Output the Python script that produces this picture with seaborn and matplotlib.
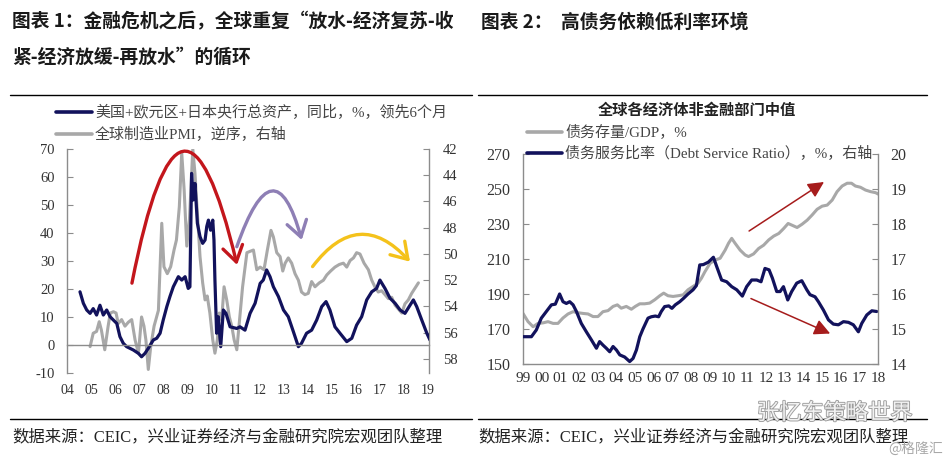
import matplotlib
matplotlib.use("Agg")
import matplotlib.pyplot as plt
import seaborn as sns
from matplotlib.lines import Line2D
from matplotlib.path import Path
from matplotlib.patches import FancyArrowPatch
import matplotlib.patheffects as pe

sns.set_style("white")
plt.rcParams["font.family"] = ["Liberation Serif", "Noto Sans CJK SC"]
plt.rcParams["axes.unicode_minus"] = False

# ---- chart 1: central bank assets yoy vs global PMI (inverted) ----
assets_year = [2004.54, 2004.68, 2004.82, 2004.96, 2005.09, 2005.23, 2005.37, 2005.51, 2005.65,
               2005.79, 2005.93, 2006.07, 2006.20, 2006.34, 2006.48, 2006.62, 2006.76, 2006.97,
               2007.10, 2007.24, 2007.38, 2007.59, 2007.73, 2007.87, 2008.00, 2008.15, 2008.28,
               2008.42, 2008.63, 2008.77, 2008.91, 2009.04, 2009.11, 2009.18, 2009.25, 2009.32,
               2009.42, 2009.53, 2009.64, 2009.74, 2009.81, 2009.88, 2009.97, 2010.06, 2010.11,
               2010.15, 2010.22, 2010.29, 2010.39, 2010.50, 2010.61, 2010.78, 2011.06, 2011.19,
               2011.40, 2011.61, 2011.82, 2012.03, 2012.16, 2012.30, 2012.44, 2012.58, 2012.79,
               2013.00, 2013.20, 2013.41, 2013.62, 2013.75, 2013.96, 2014.17, 2014.38, 2014.59,
               2014.77, 2014.93, 2015.14, 2015.35, 2015.63, 2015.84, 2016.04, 2016.25, 2016.46,
               2016.67, 2016.87, 2017.01, 2017.22, 2017.43, 2017.64, 2017.85, 2018.05, 2018.26,
               2018.40, 2018.54, 2018.75, 2018.96, 2019.09]
assets_yoy = [19.0, 14.9, 12.5, 11.3, 13.0, 10.7, 14.2, 10.7, 12.5,
              10.1, 8.9, 7.7, 3.0, 0.6, -0.6, -1.2, -1.8, -3.0,
              -4.2, -3.0, -1.2, 1.8, 2.4, 4.2, 8.9, 13.7, 17.3,
              20.8, 24.4, 23.2, 24.4, 20.2, 20.8, 61.3, 51.8, 57.7,
              43.5, 38.7, 36.3, 37.5, 42.3, 44.6, 41.0, 44.6, 37.5,
              23.2, 4.2, 10.1, -0.6, 12.5, 11.3, 6.5, 5.9, 6.5,
              5.3, 11.3, 14.9, 22.0, 23.2, 26.8, 24.4, 20.8, 17.3,
              12.5, 10.1, 4.8, -0.6, 0.6, 4.2, 5.3, 8.9, 13.7,
              15.5, 12.5, 6.5, 4.2, 1.2, 2.4, 7.1, 10.1, 16.1,
              19.0, 20.2, 23.2, 20.2, 16.7, 14.9, 12.5, 11.3, 14.2,
              16.1, 13.7, 8.9, 4.2, 1.8]

pmi_year = [2004.96, 2005.09, 2005.23, 2005.34, 2005.43, 2005.57, 2005.71, 2005.80, 2005.93,
            2006.04, 2006.13, 2006.27, 2006.41, 2006.55, 2006.69, 2006.83, 2006.97, 2007.10,
            2007.20, 2007.28, 2007.38, 2007.48, 2007.62, 2007.80, 2007.94, 2008.03, 2008.17,
            2008.31, 2008.45, 2008.55, 2008.67, 2008.77, 2008.87, 2008.98, 2009.09, 2009.23,
            2009.32, 2009.42, 2009.53, 2009.64, 2009.74, 2009.83, 2009.94, 2010.06, 2010.15,
            2010.25, 2010.33, 2010.43, 2010.53, 2010.64, 2010.75, 2010.85, 2010.95, 2011.06,
            2011.20, 2011.30, 2011.48, 2011.61, 2011.75, 2011.89, 2012.03, 2012.19, 2012.33,
            2012.48, 2012.58, 2012.72, 2012.86, 2012.97, 2013.07, 2013.20, 2013.34, 2013.48,
            2013.62, 2013.75, 2013.89, 2014.03, 2014.17, 2014.31, 2014.49, 2014.66, 2014.80,
            2014.96, 2015.14, 2015.32, 2015.49, 2015.63, 2015.77, 2015.91, 2016.04, 2016.18,
            2016.35, 2016.53, 2016.67, 2016.80, 2016.94, 2017.08, 2017.22, 2017.36, 2017.50,
            2017.64, 2017.78, 2017.92, 2018.05, 2018.19, 2018.33, 2018.47, 2018.61]
pmi = [57.06, 56.04, 55.9, 55.16, 55.8, 57.3, 55.5, 54.5, 54.4,
       54.5, 55.3, 55.0, 55.5, 55.2, 55.0, 56.55, 57.56, 54.8,
       55.5, 56.55, 58.8, 57.06, 55.5, 54.3, 47.66, 50.97, 51.5,
       50.97, 49.7, 48.93, 46.4, 42.3, 45.1, 49.4, 47.4, 42.0,
       43.85, 46.9, 50.2, 52.2, 53.5, 53.2, 54.5, 56.55, 57.56,
       56.55, 54.5, 55.0, 52.5, 53.5, 54.8, 55.5, 56.55, 57.3,
       54.5, 52.5, 49.9, 49.8, 49.7, 51.2, 51.0, 51.2, 49.7,
       48.2, 48.7, 49.9, 50.2, 51.3, 50.7, 50.3, 50.7, 51.5,
       52.0, 52.9, 53.1, 53.0, 52.1, 52.5, 52.2, 52.0, 51.6,
       51.3, 51.0, 50.8, 50.7, 51.0, 50.5, 50.3, 49.9, 50.0,
       50.7, 51.2, 52.0, 52.5, 52.9, 52.8, 53.1, 53.4, 53.3,
       53.9, 54.2, 54.5, 53.8, 53.5, 53.0, 52.6, 52.2]

years1 = list(range(2004, 2020))
labels1 = ["04", "05", "06", "07", "08", "09", "10", "11", "12", "13", "14", "15", "16", "17", "18", "19"]

# ---- chart 2: debt / GDP vs debt service ratio ----
debt_year = [1999.00, 1999.27, 1999.54, 1999.80, 2000.07, 2000.34, 2000.61, 2000.87, 2001.14,
             2001.41, 2001.68, 2001.95, 2002.21, 2002.48, 2002.75, 2003.01, 2003.28, 2003.55,
             2003.82, 2004.05, 2004.26, 2004.53, 2004.80, 2005.01, 2005.25, 2005.51, 2005.78,
             2006.05, 2006.32, 2006.53, 2006.76, 2007.03, 2007.30, 2007.57, 2007.83, 2008.10,
             2008.37, 2008.55, 2008.74, 2009.01, 2009.28, 2009.55, 2009.82, 2010.00, 2010.17,
             2010.35, 2010.62, 2010.89, 2011.07, 2011.34, 2011.61, 2011.88, 2012.15, 2012.42,
             2012.69, 2012.95, 2013.19, 2013.40, 2013.67, 2013.94, 2014.21, 2014.47, 2014.74,
             2015.01, 2015.28, 2015.55, 2015.81, 2016.08, 2016.35, 2016.58, 2016.79, 2017.06,
             2017.33, 2017.60, 2017.87, 2018.01]
debt_gdp = [178.9, 174.2, 171.3, 173.2, 173.5, 174.2, 173.2, 173.2, 176.3,
            178.6, 179.9, 179.3, 178.9, 178.6, 177.1, 177.1, 179.9, 180.5,
            182.9, 183.8, 181.9, 182.9, 181.3, 182.9, 184.4, 184.4, 184.8,
            186.7, 189.0, 190.5, 189.0, 188.6, 189.0, 189.5, 192.4, 194.3,
            196.2, 199.0, 202.8, 207.5, 209.4, 210.4, 215.1, 219.0, 221.8,
            219.0, 215.1, 212.3, 211.4, 212.9, 216.0, 217.9, 220.9, 223.1,
            224.6, 227.4, 230.3, 229.3, 228.0, 229.9, 232.2, 235.1, 238.4,
            240.2, 240.8, 243.7, 248.5, 251.7, 253.3, 253.3, 251.7, 251.0,
            249.4, 248.5, 247.9, 247.1]

dsr_year = [1999.00, 1999.45, 1999.71, 1999.98, 2000.25, 2000.52, 2000.73, 2000.96, 2001.14,
            2001.32, 2001.50, 2001.68, 2001.86, 2002.12, 2002.39, 2002.66, 2002.93, 2003.10,
            2003.28, 2003.46, 2003.64, 2003.82, 2004.00, 2004.18, 2004.44, 2004.71, 2004.89,
            2005.07, 2005.25, 2005.42, 2005.69, 2005.87, 2006.08, 2006.26, 2006.40, 2006.58,
            2006.80, 2006.97, 2007.15, 2007.39, 2007.60, 2007.83, 2008.10, 2008.28, 2008.46,
            2008.65, 2008.92, 2009.19, 2009.37, 2009.63, 2009.90, 2010.17, 2010.44, 2010.74,
            2010.97, 2011.24, 2011.51, 2011.74, 2011.95, 2012.17, 2012.35, 2012.58, 2012.76,
            2012.94, 2013.17, 2013.38, 2013.65, 2013.92, 2014.19, 2014.36, 2014.63, 2014.81,
            2015.08, 2015.35, 2015.61, 2015.88, 2016.15, 2016.42, 2016.68, 2016.95, 2017.13,
            2017.40, 2017.67, 2017.93]
dsr = [14.78, 14.78, 14.97, 15.31, 15.5, 15.69, 15.71, 16.0, 15.78,
       15.73, 15.78, 15.69, 15.5, 15.16, 14.92, 14.69, 14.45, 14.64,
       14.54, 14.45, 14.35, 14.5, 14.4, 14.26, 14.2, 14.07, 14.16,
       14.4, 14.78, 15.0, 15.31, 15.35, 15.37, 15.35, 15.5, 15.64,
       15.66, 15.59, 15.69, 15.78, 15.88, 16.0, 16.12, 16.24, 16.83,
       16.84, 16.91, 17.05, 16.78, 16.4, 16.35, 16.21, 16.12, 15.94,
       16.21, 16.4, 16.4, 16.35, 16.73, 16.69, 16.45, 16.07, 16.07,
       16.21, 15.83, 16.07, 16.31, 16.38, 16.12, 15.98, 15.92, 15.78,
       15.54, 15.26, 15.14, 15.12, 15.21, 15.19, 15.12, 14.92, 15.16,
       15.4, 15.52, 15.5]

years2 = list(range(1999, 2019))
labels2 = ["99"] + [f"{y % 100:02d}" for y in years2[1:]]

NAVY = "#12125C"
GRAY = "#A8A8A8"
AXIS = "#8C8C8C"
TXT = "#333333"
CJK = ["Noto Sans CJK SC", "DejaVu Sans"]

W, H = 948, 461


def fx(x):
    return x / W


def fy(y):
    return 1 - y / H


fig = plt.figure(figsize=(W / 100, H / 100), dpi=100)

# ---------------- chart 1 ----------------
ax1 = fig.add_axes([fx(67), fy(373), 362 / W, 224 / H])
ax2 = ax1.twinx()
ax1.set_zorder(ax2.get_zorder() + 1)
ax1.patch.set_visible(False)

sns.lineplot(x=pmi_year, y=pmi, ax=ax2, color=GRAY, linewidth=2.2)
sns.lineplot(x=assets_year, y=assets_yoy, ax=ax1, color=NAVY, linewidth=2.3)


def arc_arrow(ax, p0, peak, p2, color):
    c = (2 * peak[0] - (p0[0] + p2[0]) / 2, 2 * peak[1] - (p0[1] + p2[1]) / 2)
    path = Path([p0, c, p2], [Path.MOVETO, Path.CURVE3, Path.CURVE3])
    arr = FancyArrowPatch(path=path, arrowstyle="->,head_length=0.7,head_width=0.45",
                          mutation_scale=16, color=color, lw=2.4, clip_on=False)
    ax.add_patch(arr)


arc_arrow(ax1, (2006.70, 22.1), (2008.82, 68.9), (2011.07, 28.6), "#C3161C")
arc_arrow(ax1, (2011.06, 35.1), (2012.51, 54.75), (2013.76, 37.5), "#8E7FB5")
arc_arrow(ax1, (2014.21, 28.0), (2016.18, 39.3), (2018.26, 29.75), "#F4C21B")

ax1.set_xlim(2004, 2019.05)
ax1.set_ylim(-10, 70)
ax1.set_yticks(range(-10, 71, 10))
ax1.set_xticks(years1)
ax1.set_xticklabels(labels1)
ax2.set_ylim(59.07, 42)
ax2.set_yticks(range(42, 59, 2))

ax1.spines["bottom"].set_position(("data", 0))
for s in ["top", "right"]:
    ax1.spines[s].set_visible(False)
for s in ["top", "left", "bottom"]:
    ax2.spines[s].set_visible(False)
for sp in [ax1.spines["left"], ax1.spines["bottom"], ax2.spines["right"]]:
    sp.set_color(AXIS)
    sp.set_linewidth(1.0)

ax1.tick_params(axis="y", direction="in", length=4, pad=9, labelsize=10.5,
                color=AXIS, labelcolor=TXT)
ax1.tick_params(axis="x", direction="in", length=4, pad=28, labelsize=10,
                color=AXIS, labelcolor=TXT)
ax2.tick_params(axis="y", direction="in", length=4, pad=10, labelsize=10.5,
                color=AXIS, labelcolor=TXT)
ax1.set_xlabel("")
ax1.set_ylabel("")
ax2.set_ylabel("")

# ---------------- chart 2 ----------------
ax3 = fig.add_axes([fx(523), fy(364), 355 / W, 210 / H])
ax4 = ax3.twinx()

sns.lineplot(x=debt_year, y=debt_gdp, ax=ax3, color=GRAY, linewidth=2.2)
sns.lineplot(x=dsr_year, y=dsr, ax=ax4, color=NAVY, linewidth=2.3)

arrow_kw = dict(arrowstyle="-|>,head_length=0.8,head_width=0.4", color="#A61C1C",
                lw=1.1, mutation_scale=12, shrinkA=0, shrinkB=0)
ax3.annotate("", xy=(2015.11, 254.0), xytext=(2011.10, 226.0), arrowprops=arrow_kw)
ax3.annotate("", xy=(2015.44, 167.4), xytext=(2011.20, 187.4), arrowprops=arrow_kw)

ax3.set_xlim(1999, 2018)
ax3.set_ylim(150, 270)
ax3.set_yticks(range(150, 271, 20))
ax3.set_xticks(years2)
ax3.set_xticklabels(labels2)
ax4.set_ylim(14, 20)
ax4.set_yticks(range(14, 21))

ax3.spines["top"].set_visible(False)
ax3.spines["right"].set_visible(False)
for s in ["top", "left", "bottom"]:
    ax4.spines[s].set_visible(False)
for sp in [ax3.spines["left"], ax3.spines["bottom"], ax4.spines["right"]]:
    sp.set_color(AXIS)
    sp.set_linewidth(1.0)

ax3.tick_params(axis="y", direction="in", length=4, pad=9, labelsize=11.5,
                color=AXIS, labelcolor=TXT)
ax3.tick_params(axis="x", direction="in", length=4, pad=6, labelsize=11,
                color=AXIS, labelcolor=TXT)
ax4.tick_params(axis="y", direction="in", length=4, pad=9, labelsize=11.5,
                color=AXIS, labelcolor=TXT)
ax3.set_xlabel("")
ax3.set_ylabel("")
ax4.set_ylabel("")

# ---------------- legends (drawn by hand) ----------------
def legend_item(x0, x1, y, color, text, size):
    fig.add_artist(Line2D([fx(x0), fx(x1)], [fy(y), fy(y)], color=color, lw=2.6,
                          transform=fig.transFigure))
    fig.text(fx(x1 + 3), fy(y), text, size=size, color="#444444", va="center")


legend_item(56, 92, 112, NAVY, "美国+欧元区+日本央行总资产，同比，%，领先6个月", 10.8)
legend_item(56, 92, 134, GRAY, "全球制造业PMI，逆序，右轴", 10.8)
legend_item(527, 562, 132, GRAY, "债务存量/GDP，%", 10.8)
legend_item(527, 562, 153, NAVY, "债务服务比率（Debt Service Ratio），%，右轴", 10.8)

fig.text(fx(697), fy(110), "全球各经济体非金融部门中值", ha="center", va="center",
         size=11, weight="bold", family=CJK, color="#222222")

# ---------------- titles, rules, sources ----------------
fig.text(fx(12), fy(22), "图表 1：金融危机之后，全球重复“放水-经济复苏-收", size=13.5,
         weight="bold", family=CJK, color="#1A1A1A", va="center")
fig.text(fx(12), fy(57), "紧-经济放缓-再放水”的循环", size=13.5,
         weight="bold", family=CJK, color="#1A1A1A", va="center")
fig.text(fx(481), fy(22), "图表 2：  高债务依赖低利率环境", size=13.5,
         weight="bold", family=CJK, color="#1A1A1A", va="center")

for y in [95, 419]:
    fig.add_artist(Line2D([fx(10), fx(472)], [fy(y), fy(y)], color="black", lw=1.0,
                          transform=fig.transFigure))
    fig.add_artist(Line2D([fx(478), fx(927)], [fy(y), fy(y)], color="black", lw=1.0,
                          transform=fig.transFigure))

src = "数据来源：CEIC，兴业证券经济与金融研究院宏观团队整理"
fig.text(fx(12), fy(437), src, size=11.8, color="#222222", va="center")
fig.text(fx(478), fy(437), src, size=11.8, color="#222222", va="center")

# watermark
fig.text(fx(757), fy(413), "张忆东策略世界", size=16, family=CJK, color="#F2F2F2", va="center",
         path_effects=[pe.withStroke(linewidth=1.3, foreground="#9C9C9C")])
fig.text(fx(888), fy(449), "@格隆汇", size=10, family=CJK, color="#A8A8A8", va="center")

fig.savefig("out.png", dpi=100)
